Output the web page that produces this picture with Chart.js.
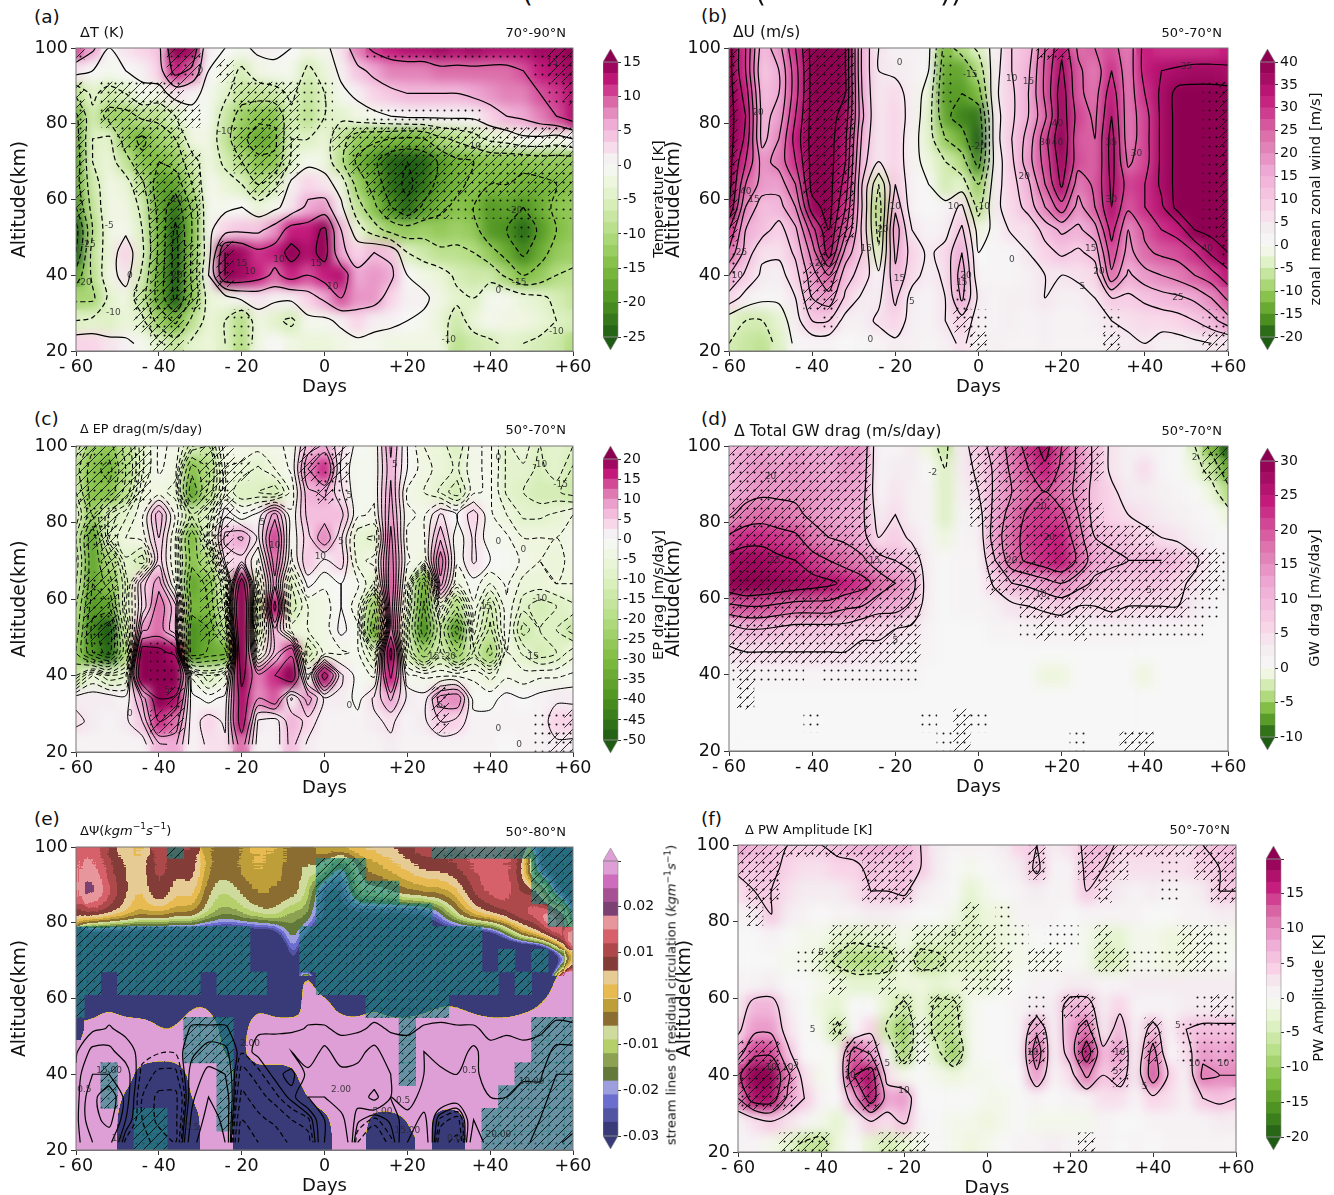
<!DOCTYPE html>
<html lang="en">
  <head>
    <meta charset="UTF-8" />
    <title>Composite differences</title>
    <style>
      html, body { margin: 0; background: #fff; overflow: hidden; }
      body { position: relative; width: 1334px; height: 1195px; font-family: "DejaVu Sans", sans-serif; color: #111; }
      canvas { position: absolute; }
      .txt { position: absolute; white-space: nowrap; transform: translateY(-50%); }
      .rt { transform: translateY(-50%) translateX(-100%); }
      .vert { transform: translate(-50%, -50%) rotate(-90deg); }
      sup { font-size: 70%; line-height: 0; }
    </style>
  </head>
  <body>
    <script src="https://cdn.jsdelivr.net/npm/chart.js"></script>
    <script>
      const days = [-60,-56,-52,-48,-44,-40,-36,-32,-28,-24,-20,-16,-12,-8,-4,0,4,8,12,16,20,24,28,32,36,40,44,48,52,56,60];
      const altitudes = [100,94,88,82,76,70,64,58,52,46,40,34,28,22];
      const dayTicks = { "-60": "- 60", "-40": "- 40", "-20": "- 20", "0": "0", "20": "+20", "40": "+40", "60": "+60" };

      const tempRows = [
        [10,6,0,2,3,4,15,14,1,0,-1,1,1,0,-2,-1,2,8,11,12,13,13,14,13,14,13,13,13,14,14,15],
        [2,0,-1,0,1,3,12,9,0,-2,-6,-2,-1,-1,-6,-3,1,4,6,8,8,8,9,9,9,9,9,10,12,13,14],
        [-9,-4,-7,-5,-1,-2,2,1,-1,-4,-8,-8,-7,-4,-8,-5,-1,1,3,4,5,5,5,5,6,7,8,8,10,11,13],
        [-16,-6,-12,-12,-9,-9,-5,-1,-1,-7,-12,-14,-14,-6,-9,-5,-4,-2,-1,0,1,1,1,1,1,3,5,6,8,10,13],
        [-17,-5,-4,-13,-16,-12,-10,-2,-2,-8,-14,-17,-16,-5,-5,-3,-8,-13,-14,-15,-16,-15,-11,-9,-7,-4,-3,-1,-1,-2,0],
        [-18,-5,-3,-8,-14,-15,-13,-7,-2,-6,-10,-14,-14,-4,-1,-2,-9,-16,-19,-24,-25,-24,-19,-16,-15,-14,-14,-14,-13,-13,-13],
        [-17,-7,-2,-3,-9,-18,-18,-10,-1,-3,-5,-10,-6,1,3,2,-2,-12,-17,-23,-26,-23,-18,-16,-14,-15,-15,-16,-16,-15,-14],
        [-20,-8,-2,-2,-6,-17,-23,-14,-1,-1,0,-3,-1,2,6,7,1,-8,-14,-20,-24,-19,-16,-14,-15,-19,-18,-20,-17,-14,-13],
        [-27,-10,-2,-1,-5,-16,-26,-15,-1,3,4,4,7,12,12,16,5,-3,-8,-12,-13,-12,-13,-12,-13,-19,-20,-24,-19,-15,-13],
        [-25,-8,-3,3,-4,-16,-27,-14,-2,15,14,11,12,17,13,17,6,3,5,4,-5,-7,-9,-9,-10,-13,-17,-21,-17,-13,-12],
        [-18,-9,-2,2,-6,-17,-27,-14,0,15,14,12,9,12,10,12,13,6,7,6,0,-2,-3,-6,-7,-7,-11,-15,-13,-10,-9],
        [-11,-11,-4,-2,-8,-17,-26,-14,-3,-2,1,2,1,1,3,6,10,7,7,3,1,1,-2,-4,-5,-1,-1,-3,-4,-6,-8],
        [-5,-4,-5,-3,-4,-12,-16,-9,-3,-5,-10,-2,-4,-6,-1,-1,1,3,1,1,0,-1,-3,-7,-3,-1,-2,-2,-3,-5,-6],
        [3,3,2,1,-1,-4,-8,-4,-3,-5,-10,-2,0,-2,-3,-3,-2,-1,-1,-2,-2,-2,-2,-9,-7,-6,-4,-5,-6,-7,-10]
      ];
      const tempMask = [
        "x.....xx..........:::::::::::xx",
        "......xx.x..................:xx",
        "x.xxxxx...xxxx::.............:x",
        "x.xxxxxx..:xxx::..:::::::......",
        "x..xxxx...xxxx..xxxxxxxxxxxxxxx",
        "x...xxxx..xxxx...xxxxxxxxxxxxxx",
        "x...xxxx...xx.....xxxxxxxxxxxxx",
        "x....xxx...........xxxx::::::::",
        ".....xx....................:...",
        ".....xxx.x.....................",
        ".....xxx.x.....................",
        "....xxxx.......................",
        "....xxx...:....................",
        ".....xx...:...................."
      ];
      const tempLabels = [[-51,30,"-10"],[-57,48,"-25"],[-58,38,"-20"],[-52,53,"-5"],[-36,60,"-10"],[-36,40,"-20"],[-24,78,"-10"],[-2,43,"15"],[2,37,"10"],[-20,43,"15"],[-18,41,"10"],[-11,44,"10"],[36,74,"-10"],[46,57,"-20"],[47,38,"-15"],[56,25,"-10"],[42,36,"0"],[-30,94,"0"],[-47,40,"0"],[30,23,"-10"],[55,96,"15"]];

      const windRows = [
        [42,30,12,18,30,42,42,40,14,5,3,3,1,-12,-8,-4,2,10,12,25,34,24,25,27,22,32,30,30,30,30,32],
        [42,30,10,15,28,42,42,40,14,5,4,3,0,-14,-14,-8,3,10,14,26,36,26,22,30,22,32,35,36,37,37,36],
        [42,33,12,15,28,42,42,40,15,5,7,3,-2,-15,-15,-12,4,9,15,26,38,26,23,33,22,30,36,42,42,42,42],
        [42,35,13,17,30,42,42,38,16,5,8,3,-3,-14,-17,-18,3,9,15,24,38,28,24,35,22,28,36,42,42,42,42],
        [42,34,13,20,32,42,42,36,14,5,8,2,-3,-10,-13,-20,3,10,17,28,40,26,25,37,22,28,36,42,42,42,42],
        [42,30,18,22,30,42,42,35,12,5,8,2,-2,-5,-8,-17,2,9,18,27,38,27,25,37,24,28,36,42,42,42,42],
        [42,25,18,17,25,42,42,33,10,-5,10,2,0,-5,-3,-10,3,8,14,25,36,22,26,36,28,30,36,42,42,42,42],
        [40,20,12,13,20,38,42,30,10,-8,14,2,0,2,6,-7,4,7,12,20,28,18,25,35,26,30,34,42,42,42,42],
        [30,15,12,8,14,28,40,26,9,-7,18,5,2,3,11,-2,1,6,6,12,16,14,18,32,20,26,30,32,40,42,42],
        [24,13,6,6,11,22,38,18,10,-4,16,8,4,7,15,0,1,1,5,8,11,9,12,28,18,24,26,27,30,36,40],
        [15,9,4,3,8,18,25,12,8,1,14,7,3,6,18,1,1,1,3,5,5,6,7,24,14,18,20,22,25,28,33],
        [8,3,1,1,5,15,18,9,4,4,11,3,2,5,16,4,2,3,3,5,3,3,5,10,9,11,13,14,16,20,26],
        [-3,-5,-5,-3,3,10,10,3,3,6,8,3,2,5,8,3,2,3,2,3,2,2,3,5,6,7,7,8,10,13,18],
        [-5,-6,-7,-4,1,2,2,0,1,2,4,3,1,3,6,2,3,2,2,3,2,2,2,4,4,5,3,3,4,5,5]
      ];
      const windMask = [
        "x....xxx.....:.....xx..........",
        "x....xxx.....:.................",
        "x....xxx.....:...............:x",
        "x....xxx.....................:x",
        "x....xxx.....................:x",
        "x....xxx.....................:x",
        "x....xxx.....................:x",
        "x.....xx.....................:x",
        "x.....xx.....................:x",
        ":.....x.......................:",
        ":....xx........................",
        ".....xx.......:................",
        "......:.......x:.......:.....::",
        "...............x.......x.....xx"
      ];
      const windLabels = [[-38,43,"20"],[-53,83,"20"],[-58,40,"10"],[-57,46,"25"],[-56,62,"40"],[-54,60,"15"],[-27,47,"15"],[-23,52,"20"],[-20,58,"10"],[-19,39,"15"],[-16,33,"5"],[-2,93,"-15"],[0,74,"-20"],[1,58,"-10"],[-4,38,"15"],[-3,40,"20"],[-6,58,"10"],[-26,23,"0"],[-19,96,"0"],[8,44,"0"],[8,92,"10"],[12,91,"15"],[11,66,"20"],[16,75,"30"],[19,80,"40"],[19,75,"40"],[25,37,"5"],[27,47,"15"],[29,41,"20"],[32,75,"35"],[32,60,"30"],[38,72,"30"],[48,34,"25"],[50,95,"35"],[55,47,"40"]];

      const epRows = [
        [-12,-24,-27,-18,-8,-2,-3,-12,-15,-3,-3,-4,-3,-2,6,8,3,-1,-2,8,0,-5,-6,-10,-3,-2,-8,-6,-10,-8,-10],
        [-18,-28,-32,-20,-8,-2,-4,-28,-20,-5,-6,-8,-5,-2,10,15,2,-2,-2,7,0,-4,-6,-8,-3,-2,-8,-8,-11,-8,-13],
        [-15,-28,-28,-18,-5,-4,-6,-35,-18,-5,-10,-10,-12,-4,7,8,3,-2,-2,8,-3,-5,-8,-12,-3,-2,-8,-10,-12,-12,-14],
        [-10,-25,-12,-8,-3,7,-3,-14,-10,2,-2,1,9,-2,6,6,6,-2,-3,9,-2,-3,3,0,4,-2,-5,-8,-8,-7,-5],
        [-15,-35,-10,-5,-4,5,-5,-30,-8,6,8,2,14,-2,4,10,3,-7,-8,11,-3,-3,7,-2,3,-2,-2,-5,-5,-5,-3],
        [-12,-35,-22,-8,-12,4,-5,-28,-20,3,4,-3,12,-3,5,2,4,-6,-4,12,-2,-5,12,-2,3,0,-1,-3,-5,-6,-4],
        [-15,-35,-28,-12,4,9,-3,-35,-28,-10,25,-8,9,-10,1,-2,0,-2,-8,13,-5,-32,9,-5,-1,-5,-2,-6,-6,-5,-5],
        [-20,-38,-36,-10,3,12,6,-32,-30,-12,35,-15,17,-12,-5,-4,0,-4,-24,12,-8,-36,-5,-20,-3,-13,-3,-9,-12,-10,-8],
        [-22,-42,-50,-15,9,12,5,-40,-35,-18,32,-12,7,-6,-5,-4,1,-2,-32,12,-12,-40,-15,-38,-6,-16,-3,-14,-10,-10,-14],
        [-25,-40,-48,-20,24,22,18,-40,-34,-32,30,-5,6,14,-12,-4,-3,-2,-10,22,-10,-24,-12,-24,-12,-22,-5,-8,-12,-10,-6],
        [-15,-5,-10,-8,28,30,32,-3,-10,-5,22,11,15,20,-2,18,3,-1,-3,16,-2,-3,-3,-3,-3,-6,-3,-4,-3,-3,-2],
        [2,2,2,1,8,20,18,1,-1,1,18,10,13,2,9,2,2,-1,3,8,2,1,9,10,-1,-1,1,0,1,2,2],
        [3,2,1,2,5,15,12,1,4,2,18,2,1,7,4,1,1,1,2,3,1,2,5,4,1,1,1,1,1,4,4],
        [1,1,1,1,1,7,8,1,3,3,12,1,1,6,2,1,1,1,1,2,1,1,1,1,1,1,0,1,1,2,2]
      ];
      const epMask = [
        "xxxxx...xx....x:x..............",
        "xxxxx...xxx...x:x..............",
        "xxxxx...xx.....x:..............",
        ".xx.....xx.....................",
        ".xx.....xx.....................",
        "..x.....xx.....................",
        ".xx.....xx.....................",
        ".xx.....xx.....................",
        ".xx.....xx.....................",
        ".::..::........................",
        ".....::........................",
        "......x...............x........",
        ".....xx...............x.....::x",
        "............................:xx"
      ];
      const epLabels = [[-38,36,"5"],[-15,80,"5"],[-22,52,"5"],[4,75,"5"],[17,95,"5"],[6,87,"5"],[28,32,"5"],[-12,74,"10"],[-34,85,"10"],[-1,71,"10"],[47,22,"0"],[42,26,"0"],[42,75,"0"],[48,73,"0"],[42,97,"0"],[52,95,"-10"],[57,90,"-15"],[52,60,"-10"],[50,45,"-15"],[39,58,"15"],[26,45,"-15"],[30,45,"-20"],[6,32,"0"],[-47,30,"0"]];

      const gwRows = [
        [10,12,13,11,13,12,12,14,14,1,1,3,-1,-3,3,8,12,17,22,27,20,14,9,4,2,2,1,0,-2,-6,-10],
        [10,13,14,13,14,13,12,14,13,1,3,3,0,-2,3,6,11,16,20,24,19,14,9,4,2,5,1,0,-1,-3,-7],
        [11,13,14,14,14,14,13,13,12,1,4,2,1,-2,2,5,11,15,18,20,17,14,8,6,3,3,2,1,0,-1,-4],
        [14,17,18,17,16,14,13,12,11,3,5,2,1,-2,1,3,12,17,21,22,21,15,8,6,5,4,3,2,1,0,-1],
        [21,23,23,22,21,17,15,14,12,5,7,4,1,-1,1,2,13,18,22,23,24,17,10,9,8,6,5,4,2,1,0],
        [27,28,28,26,25,22,20,18,16,12,10,8,2,0,1,1,10,18,21,23,25,19,12,11,10,10,10,9,6,2,1],
        [29,31,30,29,28,27,26,24,22,18,15,12,2,0,1,1,6,10,11,13,15,12,9,8,8,8,8,6,4,2,1],
        [19,20,20,19,18,18,18,16,15,12,12,9,2,0,1,1,2,4,5,6,7,5,5,6,5,5,5,5,3,1,0],
        [8,10,10,9,8,8,8,8,6,6,5,4,1,0,0,0,1,1,2,2,2,2,2,2,2,1,1,1,1,0,0],
        [4,5,5,5,5,5,5,5,4,4,3,2,1,0,0,0,0,0,0,0,0,0,0,0,0,0,0,0,0,0,0],
        [1,2,1,1,1,1,1,1,1,1,1,1,0,0,0,0,0,0,0,-1,-1,0,0,0,0,-1,0,0,0,0,0],
        [0,0,0,0,0,0,0,0,0,0,0,0,0,0,0,0,0,0,0,0,0,0,0,0,0,0,0,0,0,0,0],
        [0,0,0,0,0,0,0,0,0,0,0,0,0,0,0,0,0,0,0,0,0,0,0,0,0,0,0,0,0,0,0],
        [0,0,0,0,0,0,0,0,0,0,0,0,0,0,0,0,0,0,0,0,0,0,0,0,0,0,0,0,0,0,0]
      ];
      const gwMask = [
        "xxxxxxxxx......xxxxxxxx......xx",
        "xxxxxxxxx......xxxxxxxx......xx",
        "xxxxxxxxx......xxxxxxx.........",
        "xxxxxxxxx......xxxxxxxx........",
        "xxxxxxxxx.......xxxxxxxxxx.....",
        "xxxxxxxxxxxx....xxxxxxxxxxxxxx:",
        "xxxxxxxxxxxx....xxxxxxxxxxxxxx:",
        "xxxxxxxxxxxx......xxxxxxxxxx::.",
        "xxxxxxxxxxxx......:x:x:::::::..",
        "xxxxxxxxxxxx...................",
        ":x:::.::::::...................",
        ".x.............................",
        ".....:......:.x:...............",
        ".............:x......:..xx....."
      ];
      const gwLabels = [[-11,93,"-2"],[52,97,"2"],[15,61,"10"],[-49,70,"25"],[-50,92,"20"],[-25,70,"15"],[15,84,"20"],[17,76,"20"],[8,70,"20"],[41,62,"5"],[-20,49,"5"]];

      const psiPalette = ["#393b79","#5254a3","#6b6ecf","#9c9ede","#637939","#8ca252","#b5cf6b","#cedb9c","#8c6d31","#bd9e39","#e7ba52","#e7cb94","#843c39","#ad494a","#d6616b","#e7969c","#7b4173","#a55194","#ce6dbd","#de9ed6"];
      // residual circulation in 1e-3 units, values past +-30 are off the colour bar
      const psiRows = [
        [13,14,9,3,2,12,8,10,-3,-4,-3,2,0,-3,-3,1,2,3,4,6,8,12,13,12,14,13,12,14,-30,-30,-30],
        [14,18,10,6,2,14,4,10,-3,-5,-2,0,-2,-4,-8,-6,-28,-4,-2,0,3,6,6,8,12,14,13,9,-30,-30,-30],
        [14,21,13,7,0,12,2,7,-7,-10,-6,-2,-3,-4,-8,-30,-30,-9,-8,-6,-3,-2,-2,1,10,13,15,7,14,-30,-30],
        [8,10,7,3,-2,1,-3,-2,-10,-15,-12,-8,-6,-15,-12,-30,-30,-30,-30,-30,-30,-30,-20,-6,2,6,9,14,14,28,-30],
        [-40,-40,-40,-40,-40,-40,-40,-40,-40,-40,-40,-40,-40,-10,-30,-40,-40,-40,-40,-40,-40,-40,-40,-40,-40,-40,-20,-4,2,12,22],
        [-90,-90,-90,-90,-90,-90,-90,-90,-90,-90,-90,-90,-90,-6,-60,-90,-90,-90,-90,-90,-90,-90,-90,-90,-90,-90,-90,-90,-90,-40,5],
        [-90,-90,-90,-90,-90,-90,-90,-90,-90,-90,-90,-90,-90,-90,60,-90,-90,-90,-90,-90,-90,-90,-90,-90,-90,-90,-90,-90,-90,20,90],
        [-90,-90,0,-90,-90,-90,-90,0,0,-90,-90,0,-90,-90,60,60,-60,-90,0,-90,-90,-40,0,0,-40,-90,-90,-40,0,60,90],
        [-90,90,90,90,90,0,0,90,90,-60,-60,90,90,90,-30,90,90,90,90,90,90,90,90,90,90,90,90,90,90,90,90],
        [60,90,90,90,90,60,60,90,90,-20,-40,90,90,90,90,90,90,90,90,90,90,90,90,90,90,90,90,90,90,90,90],
        [90,90,90,90,-90,-90,-90,40,90,90,-90,-50,-80,-60,90,90,90,90,90,90,90,90,90,90,90,90,90,90,90,90,90],
        [90,90,90,-30,-90,-90,-90,0,90,90,-90,-90,-90,-90,0,90,90,90,90,90,90,90,90,90,90,90,90,90,90,90,90],
        [90,90,90,-90,-90,-90,-90,-90,90,90,-90,-90,-90,-90,-90,-60,90,90,-60,-60,0,90,-90,-90,90,90,90,90,90,90,90],
        [90,90,90,-90,-90,-90,-90,-90,90,90,-90,-90,-90,-90,-90,-90,90,90,-90,-90,-90,90,-90,-90,90,90,90,90,90,90,90]
      ];
      const psiMask = [
        "......x...............xxxxxxxxx",
        "...............xxx..........xxx",
        "...............xxxxx........xxx",
        "...............xxxxxxx.......xx",
        "xxxxxxxxxxx...xxxxxxxxxxx......",
        "xxxxxxxxxxx...xxxxxxxxxxx.x.x..",
        "xx.xxxxx.xxx...xxxxxxxxxxx.x...",
        "x.................xxxxx........",
        ".......xxx..........x.......xxx",
        ".......xxx..........x.......xxx",
        "..:......x..........x......xxxx",
        "..:......x................xxxxx",
        "....xx...x...............xxxxxx",
        "....xx...................xxxxxx"
      ];
      const streamRows = [
        [0,0,0,0,0,0,0,0,0,0,0,0,0,0,0,0,0,0,0,0,0,0,0,0,0,0,0,0,0,0,0],
        [0,0,0,0,0,0,0,0,0,0,0,0,0,0,0,0,0,0,0,0,0,0,0,0,0,0,0,0,0,0,0],
        [0,0,0,0,0,0,0,0,0,0,0,0,0,0,0,0,0,0,0,0,0,0,0,0,0,0,0,0,0,0,0],
        [0,0,0,0,0,0,0,0,0,0,0,0,0,0,0,0,0,0,0,0,0,0,0,0,0,0,0,0,0,0,0],
        [0,0,0,0,0,0,0,0,0,0,0,0,0,0,0,0,0,0,0,0,0,0,0,0,0,0,0,0,0,0,0],
        [0,0,0,0,0,0,0,0,0,0,0,0,0,0,0,0,0,0,0,0,0,0,0,0,0,0,0,0,0,0,0],
        [0,0,0,0,0,0,0,0,0,0,0,0,0,0,0,0,0,0,0,0,0,0,0,0,0,0,0,0,0,0,0],
        [0,0,0,0,0,0,0,0,0,0,0,0,0,0,0,0,0,0,0,0,0,0,0,0,0,0,0,0,0,0,0],
        [0,0.2,0.6,0.2,0,0,0,0.6,0.6,0.6,0.1,0.3,0.2,0.2,0.6,0.6,0.3,0.3,0.7,0.4,0.3,0.6,0.7,0.6,0.6,0.3,0.3,0.3,0.3,0.8,0.7],
        [0.3,2.5,2.5,1,0.1,-0.3,-0.3,1.5,3,2.5,-0.3,1,1.5,2,0.8,2.5,1,1.5,2.5,1,1,2,1,1,2.5,0.7,1,0.7,1,2.5,2.5],
        [0.7,5,5,3,-1,-2.5,-2.5,3,6,5,-3,-1,1,0,2.5,3,2.5,2.5,3,2,1,2,2.5,2,2.5,1,1.5,1.5,1.5,5,5],
        [0.6,8,15,3,-2,-6,-6,4,10,8,-6,-3,-1,1,5,5,3,3,6,2,0.7,3,5,4,4,2,2,3,3,7,10],
        [1,8,12,2,-2,-6,-6,6,12,9,-10,-6,-4,-2,-1,5,6,1,-1,1,3,6,-1,-3,5,2,3,3,5,8,8],
        [1,5,6,-1,-1,-3,-5,8,15,10,-15,-10,-8,-4,-3,5,10,-2,-5,-1,5,8,-4,-6,8,3,3,3,8,6,3]
      ];
      const psiLabels = [[-52,41,"15.00"],[-58,36,"0.5"],[-18,48,"2.00"],[4,36,"2.00"],[19,33,"0.5"],[35,41,"0.5"],[50,38,"10.00"],[20,25,"15.00"],[32,23,"0.00"],[42,24,"20.00"],[14,30,"5.00"],[-32,26,"0.5"],[-50,23,"10"]];

      const pwRows = [
        [8,7,6,5,5,5,6,7,7,7,7,5,2,1,1,1,2,4,5,2,3,6,7,4,4,4,4,3,5,6,6],
        [6,5,6,4,3,3,4,4,6,5,6,5,2,0,-1,0,1,2,6,1,1,6,5,3,3,3,3,3,4,5,6],
        [3,5,5,3,2,2,2,3,5,5,6,2,1,0,-3,-1,0,1,2,1,1,5,3,2,1,2,1,1,2,5,5],
        [1,2,5,2,1,0,1,1,2,2,1,0,0,-1,-4,-2,-2,1,1,1,0,1,1,1,1,0,0,1,1,2,2],
        [0,0,1,0,-1,-1,-3,-4,-3,-3,-1,-3,-3,-4,-4,-3,-2,-1,0,0,0,-1,-3,-3,-1,-1,-2,-2,-1,-1,-1],
        [0,0,0,-1,-1,-3,-6,-8,-8,-7,-2,-7,-6,-4,-4,-4,-2,-1,-1,-1,0,-1,-5,-4,-1,-1,-2,-2,-1,-1,0],
        [1,1,2,0,0,-1,-2,-3,-3,-3,-2,-2,-3,-2,-2,-3,-1,0,1,1,2,2,1,1,2,2,2,2,2,2,2],
        [2,7,7,2,0,-2,-3,0,0,-3,-6,-2,-6,-6,-1,0,0,1,2,2,7,7,2,4,1,1,1,2,2,2,2],
        [4,9,9,3,0,-1,-6,0,4,-6,-10,-1,-7,-7,-1,0,0,1,9,1,8,12,2,7,1,7,1,5,6,6,6],
        [8,14,14,6,0,0,-1,13,9,0,-9,0,-4,-10,-1,0,0,1,13,1,7,18,6,9,1,12,0,3,9,8,9],
        [14,20,20,11,3,-1,0,15,18,3,-1,0,-1,-2,-1,-1,0,0,9,1,3,11,5,7,2,13,4,1,11,10,10],
        [10,18,18,9,5,1,0,8,18,8,9,0,0,0,0,-1,-1,0,1,0,1,1,3,3,1,4,3,1,5,6,5],
        [1,3,5,3,1,-1,-3,1,5,3,6,1,0,-1,-1,-2,-1,0,-1,-1,-1,-1,1,0,0,1,1,1,1,2,2],
        [1,1,-1,-3,-6,-7,-2,0,-3,-5,-3,-1,0,-1,-2,-1,0,1,1,2,1,1,1,0,1,0,1,1,1,1,1]
      ];
      const pwMask = [
        "xxxxxxxxxxx.......x..xxxxxxxxxx",
        "xxx.....xxx.......x..xxx..:.xxx",
        ".xx.....xxx...........x...:..xx",
        ".x............x.:..............",
        "......xxxx.xxxxx::.::.x....xx:.",
        "....:xxxxxxxxxxxx.xx..xx:::xx:.",
        "......x..x....xxx..............",
        "..........x.xx....:.xx......:x:",
        "......x...xxxx....x..x...x.::::",
        "xxx....xx.xx.x....x..x.x.x.::::",
        "xxxx...xx..............x.......",
        "xxxx....x......................",
        "...............................",
        "...xxx...xxx.........x........."
      ];
      const pwLabels = [[-46,43,"5"],[-48,42,"10"],[-52,42,"10"],[-33,40,"10"],[-24,43,"5"],[-20,36,"10"],[-42,52,"5"],[-8,77,"5"],[-40,72,"5"],[14,50,"5"],[11,46,"10"],[31,41,"5"],[32,46,"10"],[38,37,"5"],[46,53,"5"],[50,43,"10"],[57,43,"10"]];

      const piyg = [
        [0, [247,247,247]],[0.1,[244,236,240]],[0.2,[249,212,232]],[0.4,[238,170,212]],[0.6,[220,110,170]],[0.8,[197,27,125]],[1,[142,1,82]]
      ];
      const greens = [
        [0, [247,247,247]],[0.1,[238,246,222]],[0.2,[222,241,196]],[0.4,[180,221,130]],[0.6,[127,188,65]],[0.8,[77,146,33]],[1,[30,92,20]]
      ];
      function divergingColor(v, vmin, vmax) {
        const stops = v >= 0 ? piyg : greens;
        const t = Math.min(1, v >= 0 ? v / vmax : v / vmin);
        for (let i = 1; i < stops.length; i++) {
          if (t <= stops[i][0]) {
            const a = stops[i - 1], b = stops[i];
            const f = (t - a[0]) / (b[0] - a[0]);
            const c = a[1].map((n, k) => Math.round(n + (b[1][k] - n) * f));
            return `rgb(${c[0]},${c[1]},${c[2]})`;
          }
        }
        return "rgb(142,1,82)";
      }
      function psiGray(v) {
        const g = Math.round(((Math.max(-90, Math.min(90, v)) + 90) / 180) * 255);
        return `rgb(${g},${g},${g})`;
      }
      function psiBand(v) {
        return psiPalette[Math.max(0, Math.min(19, Math.floor((v + 30) / 3)))];
      }

      function makeTile(w, h, paint) {
        const c = document.createElement("canvas");
        c.width = w;
        c.height = h;
        paint(c.getContext("2d"));
        return document.createElement("canvas").getContext("2d").createPattern(c, "repeat");
      }
      function hatchPaint(fill) {
        return g => {
          if (fill) {
            g.fillStyle = fill;
            g.fillRect(0, 0, 10, 10);
          }
          g.strokeStyle = "rgba(0,0,0,0.9)";
          g.lineWidth = 0.9;
          g.beginPath();
          g.moveTo(-1, 11);
          g.lineTo(11, -1);
          g.stroke();
        };
      }
      const hatchPlain = makeTile(10, 10, hatchPaint(null));
      const hatchTeal = makeTile(10, 10, hatchPaint("rgba(30,135,130,0.62)"));
      const dotTile = makeTile(7, 9, g => {
        g.fillStyle = "rgba(0,0,0,0.9)";
        g.beginPath();
        g.arc(3.5, 4.5, 1, 0, 7);
        g.fill();
      });

      // marching squares over the read grid, chained so the curve can be smoothed
      function contourPoints(rows, level) {
        const segs = [];
        const edge = (x1, y1, v1, x2, y2, v2) => {
          const f = (level - v1) / (v2 - v1);
          return { x: +(x1 + (x2 - x1) * f).toFixed(3), y: +(y1 + (y2 - y1) * f).toFixed(3) };
        };
        for (let r = 0; r < altitudes.length - 1; r++) {
          for (let c = 0; c < days.length - 1; c++) {
            const x0 = days[c], x1 = days[c + 1], y0 = altitudes[r], y1 = altitudes[r + 1];
            const a = rows[r][c], b = rows[r][c + 1], d = rows[r + 1][c], e = rows[r + 1][c + 1];
            const hits = [];
            if (a < level !== b < level) hits.push(edge(x0, y0, a, x1, y0, b));
            if (b < level !== e < level) hits.push(edge(x1, y0, b, x1, y1, e));
            if (e < level !== d < level) hits.push(edge(x1, y1, e, x0, y1, d));
            if (d < level !== a < level) hits.push(edge(x0, y1, d, x0, y0, a));
            if (hits.length >= 2) segs.push([hits[0], hits[1]]);
            if (hits.length === 4) segs.push([hits[2], hits[3]]);
          }
        }
        const key = p => p.x + "," + p.y;
        const ends = {};
        segs.forEach((s, i) => {
          s.forEach(p => (ends[key(p)] = ends[key(p)] || []).push(i));
        });
        const used = segs.map(() => false);
        const out = [];
        const walk = (line, tail) => {
          for (;;) {
            const next = (ends[key(tail)] || []).find(i => !used[i]);
            if (next === undefined) return tail;
            used[next] = true;
            const s = segs[next];
            tail = key(s[0]) === key(tail) ? s[1] : s[0];
            line.push(tail);
          }
        };
        segs.forEach((s, i) => {
          if (used[i]) return;
          used[i] = true;
          const line = [s[0], s[1]];
          walk(line, s[1]);
          line.reverse();
          walk(line, s[0]);
          line.forEach(p => out.push(p));
          out.push({ x: line[0].x, y: null });
        });
        return out;
      }

      const blurPlugin = {
        id: "smoothCells",
        afterDatasetDraw(chart, args) {
          if (args.index !== 0) return;
          const o = chart.options.plugins.smoothCells;
          const a = chart.chartArea;
          const ctx = chart.ctx;
          ctx.save();
          ctx.beginPath();
          ctx.rect(a.left, a.top, a.width, a.height);
          ctx.clip();
          ctx.filter = `blur(${o.radius}px)`;
          ctx.drawImage(chart.canvas, a.left, a.top, a.width, a.height, a.left, a.top, a.width, a.height);
          ctx.restore();
          if (o.bands) {
            const x = Math.floor(a.left), y = Math.floor(a.top), w = Math.ceil(a.width), h = Math.ceil(a.height);
            const img = ctx.getImageData(x, y, w, h);
            const rgb = psiPalette.map(s => [1, 3, 5].map(i => parseInt(s.substr(i, 2), 16)));
            // below the mesosphere band the jump from navy to pink is only a hairline
            const sharpFrom = Math.round(chart.scales.y.getPixelForValue(66)) - y;
            for (let i = 0; i < img.data.length; i += 4) {
              let v = (img.data[i] / 255) * 180 - 90;
              if (i / 4 / w >= sharpFrom && Math.abs(v) > 2) v = v < 0 ? -90 : 90;
              const c = rgb[Math.max(0, Math.min(19, Math.floor((v + 30) / 3)))];
              img.data[i] = c[0];
              img.data[i + 1] = c[1];
              img.data[i + 2] = c[2];
              img.data[i + 3] = 255;
            }
            ctx.putImageData(img, x, y);
          }
        }
      };
      const framePlugin = {
        id: "panelFrame",
        afterDraw(chart) {
          const a = chart.chartArea;
          const ctx = chart.ctx;
          ctx.save();
          ctx.strokeStyle = "#777";
          ctx.lineWidth = 1;
          ctx.strokeRect(a.left, a.top, a.width, a.height);
          ctx.fillStyle = "rgba(40,40,40,0.85)";
          ctx.font = '9px "DejaVu Sans"';
          ctx.textAlign = "center";
          ctx.textBaseline = "middle";
          (chart.options.plugins.panelFrame.labels || []).forEach(l => {
            ctx.fillText(l[2], chart.scales.x.getPixelForValue(l[0]), chart.scales.y.getPixelForValue(l[1]));
          });
          ctx.restore();
        }
      };

      function drawPanel(cfg) {
        const canvas = document.createElement("canvas");
        const left = 76, top = 14, bottom = 47, right = 30;
        canvas.width = left + cfg.w + right;
        canvas.height = top + cfg.h + bottom;
        canvas.style.left = cfg.x - left + "px";
        canvas.style.top = cfg.y - top + "px";
        document.body.appendChild(canvas);

        const datasets = [];
        altitudes.forEach((alt, r) => {
          const half = 3;
          datasets.push({
            order: 3,
            data: days.map(d => ({ x: d, y: [r === altitudes.length - 1 ? 19 : alt - half, alt + half] })),
            backgroundColor: cfg.rows[r].map(cfg.color),
            grouped: false,
            barPercentage: 1,
            categoryPercentage: 1
          });
        });
        const hatchCells = [], dotCells = [];
        cfg.mask.forEach((line, r) => {
          days.forEach((d, c) => {
            const ch = line[c];
            const cell = { x: d, y: [altitudes[r] - 3, altitudes[r] + 3] };
            if (ch === "x" || (ch === ":" && cfg.teal)) hatchCells.push(cell);
            if (ch === "x" || ch === ":") dotCells.push(cell);
          });
        });
        [[hatchCells, cfg.teal ? hatchTeal : hatchPlain], [dotCells, dotTile]].forEach(p => {
          datasets.push({
            order: 2,
            data: p[0],
            backgroundColor: p[1],
            grouped: false,
            barPercentage: 1,
            categoryPercentage: 1
          });
        });
        cfg.levels.forEach(level => {
          datasets.push({
            type: "line",
            order: 1,
            data: contourPoints(cfg.lineRows || cfg.rows, level),
            borderColor: "#000",
            borderWidth: cfg.lineWidth || 1.2,
            borderDash: level < 0 ? [5, 3] : [],
            pointRadius: 0,
            tension: 0.3,
            spanGaps: false
          });
        });

        new Chart(canvas, {
          type: "bar",
          data: { datasets },
          plugins: [blurPlugin, framePlugin],
          options: {
            responsive: false,
            animation: false,
            events: [],
            layout: { padding: { top, right, left: 0, bottom: 0 } },
            plugins: {
              legend: { display: false },
              tooltip: { enabled: false },
              smoothCells: { radius: cfg.blur || 6, bands: !!cfg.teal },
              panelFrame: { labels: cfg.labels }
            },
            scales: {
              x: {
                type: "linear",
                offset: false,
                min: -60,
                max: 60,
                afterFit(s) {
                  s.height = bottom;
                  s.paddingLeft = 0;
                  s.paddingRight = 0;
                },
                grid: { offset: false, drawOnChartArea: false, tickLength: 5, color: "#333" },
                border: { color: "#777" },
                ticks: {
                  stepSize: 20,
                  maxRotation: 0,
                  padding: 1,
                  color: "#111",
                  font: { family: "DejaVu Sans", size: 17.5 },
                  callback: v => dayTicks[v]
                },
                title: {
                  display: true,
                  text: "Days",
                  color: "#111",
                  padding: { top: 0, bottom: 0 },
                  font: { family: "DejaVu Sans", size: 18 }
                }
              },
              y: {
                min: 20,
                max: 100,
                beginAtZero: false,
                afterFit(s) {
                  s.width = left;
                  s.paddingTop = 0;
                  s.paddingBottom = 0;
                },
                grid: { drawOnChartArea: false, tickLength: 5, color: "#333" },
                border: { color: "#777" },
                ticks: {
                  stepSize: 20,
                  padding: 3,
                  color: "#111",
                  font: { family: "DejaVu Sans", size: 17.5 }
                },
                title: {
                  display: true,
                  text: "Altitude(km)",
                  color: "#111",
                  padding: { top: cfg.titlePad || 9, bottom: 0 },
                  font: { family: "DejaVu Sans", size: 18.8 }
                }
              }
            }
          }
        });
      }

      function drawColorbar(cfg) {
        const canvas = document.createElement("canvas");
        const pad = 16, scaleWidth = 58, barWidth = 15;
        const bodyH = cfg.bottom - cfg.top;
        canvas.width = barWidth + scaleWidth;
        canvas.height = bodyH + pad * 2;
        canvas.style.left = cfg.x + "px";
        canvas.style.top = cfg.top - pad + "px";
        document.body.appendChild(canvas);

        const step = (cfg.vmax - cfg.vmin) / cfg.bands;
        const datasets = [];
        for (let i = 0; i < cfg.bands; i++) {
          const lo = cfg.vmin + i * step;
          datasets.push({
            data: [[lo, lo + step]],
            backgroundColor: cfg.bandColor(lo + step / 2),
            grouped: false,
            barPercentage: 1,
            categoryPercentage: 1
          });
        }
        const tips = {
          id: "barTips",
          afterDraw(chart) {
            const a = chart.chartArea;
            const ctx = chart.ctx;
            const tri = (y, tip, fill) => {
              ctx.beginPath();
              ctx.moveTo(a.left, y);
              ctx.lineTo((a.left + a.right) / 2, tip);
              ctx.lineTo(a.right, y);
              ctx.closePath();
              ctx.fillStyle = fill;
              ctx.fill();
              ctx.strokeStyle = "#888";
              ctx.lineWidth = 0.6;
              ctx.stroke();
            };
            tri(a.top, a.top - 13, cfg.bandColor(cfg.vmax));
            tri(a.bottom, a.bottom + 13, cfg.bandColor(cfg.vmin));
            ctx.strokeStyle = "#888";
            ctx.lineWidth = 0.6;
            ctx.strokeRect(a.left, a.top, a.width, a.height);
          }
        };
        new Chart(canvas, {
          type: "bar",
          data: { labels: [""], datasets },
          plugins: [tips],
          options: {
            responsive: false,
            animation: false,
            events: [],
            layout: { padding: { top: pad, bottom: pad, left: 0, right: 0 } },
            plugins: { legend: { display: false }, tooltip: { enabled: false } },
            scales: {
              x: { display: false },
              y: {
                position: "right",
                min: cfg.vmin,
                max: cfg.vmax,
                afterFit(s) {
                  s.width = scaleWidth;
                  s.paddingTop = 0;
                  s.paddingBottom = 0;
                },
                grid: { drawOnChartArea: false, tickLength: 3, color: "#333" },
                border: { display: false },
                ticks: {
                  stepSize: cfg.step,
                  padding: 2,
                  color: "#111",
                  font: { family: "DejaVu Sans", size: 14 },
                  callback: cfg.tick || (v => v)
                }
              }
            }
          }
        });
      }

      const epLevels = [-50,-45,-40,-35,-30,-25,-20,-15,-12.5,-10,-7.5,-5,-2.5,0,2.5,5,7.5,10,15,20];
      const panels = [
        { x: 76, y: 48, w: 497, h: 303, rows: tempRows, mask: tempMask, vmin: -25, vmax: 15, levels: [-25,-20,-15,-10,-5,0,5,10,15], labels: tempLabels },
        { x: 729, y: 48, w: 499, h: 303, rows: windRows, mask: windMask, vmin: -20, vmax: 40, levels: [-20,-15,-10,-5,0,5,10,15,20,25,30,35,40], labels: windLabels, titlePad: 10 },
        { x: 76, y: 446, w: 497, h: 306, rows: epRows, mask: epMask, vmin: -50, vmax: 20, levels: epLevels, labels: epLabels, lineWidth: 1, blur: 5 },
        { x: 729, y: 446, w: 499, h: 305, rows: gwRows, mask: gwMask, vmin: -10, vmax: 30, levels: [-5,-2,5,10,15,20,25], labels: gwLabels, titlePad: 10 },
        { x: 76, y: 847, w: 497, h: 303, rows: psiRows, mask: psiMask, teal: true, lineRows: streamRows, levels: [-15,-10,-5,-2,-0.5,0.5,2,5,10,15], labels: psiLabels, blur: 9 },
        { x: 738, y: 845, w: 498, h: 307, rows: pwRows, mask: pwMask, vmin: -20, vmax: 20, levels: [-15,-10,-5,5,10,15], labels: pwLabels, titlePad: 12 }
      ];
      panels.forEach(p => {
        p.color = p.teal ? psiGray : v => divergingColor(v, p.vmin, p.vmax);
        drawPanel(p);
      });

      const barColor = (vmin, vmax) => v => divergingColor(v, vmin, vmax);
      drawColorbar({ x: 603, top: 62, bottom: 337, vmin: -25, vmax: 15, step: 5, bands: 24, bandColor: barColor(-25, 15) });
      drawColorbar({ x: 1260, top: 62, bottom: 337, vmin: -20, vmax: 40, step: 5, bands: 24, bandColor: barColor(-20, 40) });
      drawColorbar({ x: 603, top: 459, bottom: 740, vmin: -50, vmax: 20, step: 5, bands: 28, bandColor: barColor(-50, 20) });
      drawColorbar({ x: 1260, top: 461, bottom: 737, vmin: -10, vmax: 30, step: 5, bands: 24, bandColor: barColor(-10, 30) });
      drawColorbar({
        x: 603, top: 861, bottom: 1136, vmin: -30, vmax: 30, step: 10, bands: 20, bandColor: psiBand,
        tick: v => (v === 30 ? "" : v === 0 ? "0" : (v / 1000).toFixed(2))
      });
      drawColorbar({ x: 1266, top: 859, bottom: 1137, vmin: -20, vmax: 20, step: 5, bands: 24, bandColor: barColor(-20, 20), tick: v => (v === 20 ? "" : v) });

      const texts = [
        ["(a)", 34, 16, 18.5], ["(b)", 701, 15, 18.5], ["(c)", 34, 418, 18.5], ["(d)", 701, 418, 18.5], ["(e)", 34, 818, 18.5], ["(f)", 701, 818, 18.5],
        ["ΔT (K)", 80, 32, 14.5], ["ΔU (m/s)", 733, 32, 15.5], ["Δ EP drag(m/s/day)", 80, 428, 12.7], ["Δ Total GW drag (m/s/day)", 734, 430, 15.8],
        ["ΔΨ(<i>kgm</i><sup>−1</sup><i>s</i><sup>−1</sup>)", 80, 830, 13], ["Δ PW Amplitude [K]", 745, 829, 13],
        ["(", 522, -8, 28], ["(", 755, -8, 28], ["))", 940, -8, 28]
      ];
      const regions = [["70°-90°N", 566, 32], ["50°-70°N", 1222, 32], ["50°-70°N", 566, 429], ["50°-70°N", 1222, 430], ["50°-80°N", 566, 831], ["50°-70°N", 1230, 829]];
      const barTitles = [
        ["Temperature [K]", 658, 199, 14.5], ["zonal mean zonal wind [m/s]", 1314, 199, 14.8], ["EP drag [m/s/day]", 658, 595, 14.5],
        ["GW drag [m/s/day]", 1314, 598, 14.5], ["stream lines of residual circulation (<i>kgm</i><sup>−1</sup><i>s</i><sup>−1</sup>)", 671, 995, 13], ["PW Amplitude [K]", 1318, 998, 14.5]
      ];
      function addText(html, x, y, size, cls) {
        const el = document.createElement("div");
        el.className = cls;
        el.innerHTML = html;
        el.style.left = x + "px";
        el.style.top = y + "px";
        el.style.fontSize = size + "px";
        document.body.appendChild(el);
      }
      texts.forEach(t => addText(t[0], t[1], t[2], t[3], "txt"));
      regions.forEach(t => addText(t[0], t[1], t[2], 13, "txt rt"));
      barTitles.forEach(t => addText(t[0], t[1], t[2], t[3], "txt vert"));
    </script>
  </body>
</html>
